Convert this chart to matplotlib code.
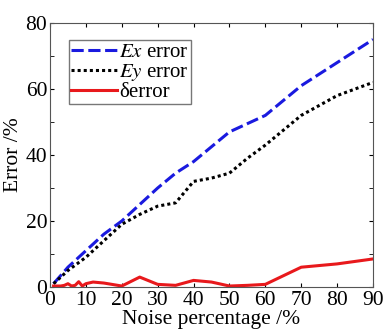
import numpy as np
import matplotlib.pyplot as plt
from matplotlib.ticker import MultipleLocator

plt.rcParams['font.family'] = ['Liberation Serif', 'DejaVu Serif']
plt.rcParams['mathtext.fontset'] = 'stix'

# Ex / Ey error curves
noise = [1, 5, 10, 15, 20, 25, 30, 35, 40, 45, 50, 55, 60, 70, 80, 90]
ex_err = [1, 6, 11, 16, 20, 25, 30, 34.5, 38, 42.5, 47, 49.5, 52, 61, 68, 75]
ey_err = [1, 5, 9, 14, 19, 22, 24.5, 25.5, 32, 33, 34.5, 39, 43, 52, 58, 62]

# delta error curve
noise_d = [1, 2, 3, 4, 5, 6, 7, 8, 9, 10, 12, 15, 20, 25, 30, 35, 40, 45, 50, 55, 60, 70, 80, 90]
d_err = [0.3, 0.3, 0.3, 0.5, 1, 0.3, 0.5, 1.6, 0.3, 1, 1.5, 1.2, 0.3, 3, 0.8, 0.5, 2,
         1.5, 0.3, 0.5, 0.8, 6, 7, 8.5]

fig = plt.figure(figsize=(3.89, 3.36), dpi=100)
ax = fig.add_axes([50/389, 1 - 287/336, 323/389, 264/336])

ax.plot(noise, ex_err, color='#1a1adf', linestyle=(0, (4, 1.5)), lw=2.2, label=r'$Ex$ error')
ax.plot(noise, ey_err, color='black', linestyle=(0, (1, 1)), lw=2.2, label=r'$Ey$ error')
ax.plot(noise_d, d_err, color='#e8191c', lw=2.2, label='δerror')

ax.set_xlim(0, 90)
ax.set_ylim(0, 80)
ax.xaxis.set_major_locator(MultipleLocator(10))
ax.yaxis.set_major_locator(MultipleLocator(20))
ax.yaxis.set_minor_locator(MultipleLocator(10))
ax.tick_params(which='both', direction='in', top=True, right=True, labelsize=15.5)
ax.tick_params(axis='x', pad=3)
ax.tick_params(axis='y', pad=2)
ax.tick_params(which='both', length=3)
for s in ax.spines.values():
    s.set_color('#555555')
    s.set_linewidth(0.8)

ax.set_xlabel('Noise percentage /%', fontsize=15.5, labelpad=0)
ax.set_ylabel('Error /%', fontsize=15.5, labelpad=2)

ax.legend(loc='upper left', bbox_to_anchor=(0.06, 0.935), fontsize=15, frameon=True,
          fancybox=False, edgecolor='#555555', handlelength=2.2, handletextpad=0.1,
          borderpad=0.1, labelspacing=0.0, borderaxespad=0)

fig.savefig('out.png', dpi=100)
